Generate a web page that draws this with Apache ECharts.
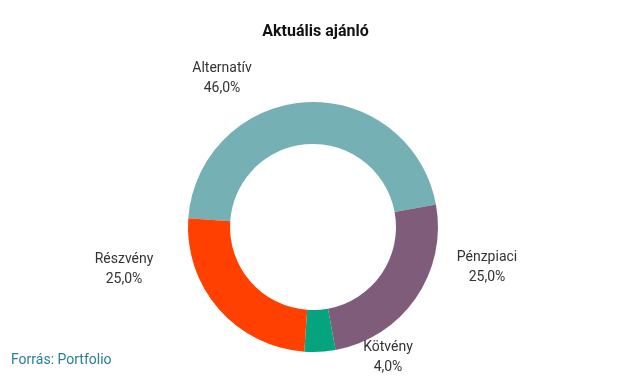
<!DOCTYPE html>
<html>
<head>
<meta charset="utf-8">
<script src="https://cdn.jsdelivr.net/npm/echarts@6/dist/echarts.min.js"></script>
<style>
  html, body { margin: 0; padding: 0; background: #fff; }
  #chart { width: 631px; height: 378px; }
</style>
</head>
<body>
<div id="chart"></div>
<script>
// adatok
const categories = ['Alternatív', 'Pénzpiaci', 'Kötvény', 'Részvény']
const shares = [46, 25, 4, 25]
const colors = ['#74b0b4', '#7f5d7a', '#05a37e', '#ff4000']

// címkék helye a fánk közepéhez képest (px)
const labelOffsets = [[-91, -149], [174, 40], [75, 130], [-189, 42]]

const cx = 313, cy = 227

const chart = echarts.init(document.getElementById('chart'))

const option = {
  animation: false,
  title: {
    text: 'Aktuális ajánló',
    left: 'center',
    top: 19,
    textStyle: { fontFamily: 'Roboto', fontSize: 16, fontWeight: 'bold', color: '#111' }
  },
  graphic: [{
    type: 'text',
    left: 11,
    top: 353,
    style: { text: 'Forrás: Portfolio', fontFamily: 'Roboto', fontSize: 14, fill: '#287d9b' }
  }],
  series: [{
    type: 'pie',
    center: [cx, cy],
    radius: [83, 125],
    startAngle: 176,
    clockwise: true,
    avoidLabelOverlap: false,
    itemStyle: { borderWidth: 0 },
    label: {
      show: true,
      position: 'outside',
      fontFamily: 'Roboto',
      fontSize: 14,
      lineHeight: 20,
      color: '#333',
      formatter: p => p.name + '\n' + p.value.toFixed(1).replace('.', ',') + '%'
    },
    labelLine: { show: false },
    labelLayout: p => {
      const o = labelOffsets[p.dataIndex]
      return { x: cx + o[0], y: cy + o[1], align: 'center', verticalAlign: 'middle' }
    },
    emphasis: { disabled: true },
    data: categories.map((name, i) => ({
      name: name,
      value: shares[i],
      itemStyle: { color: colors[i] }
    }))
  }]
}

option && chart.setOption(option)
</script>
</body>
</html>
